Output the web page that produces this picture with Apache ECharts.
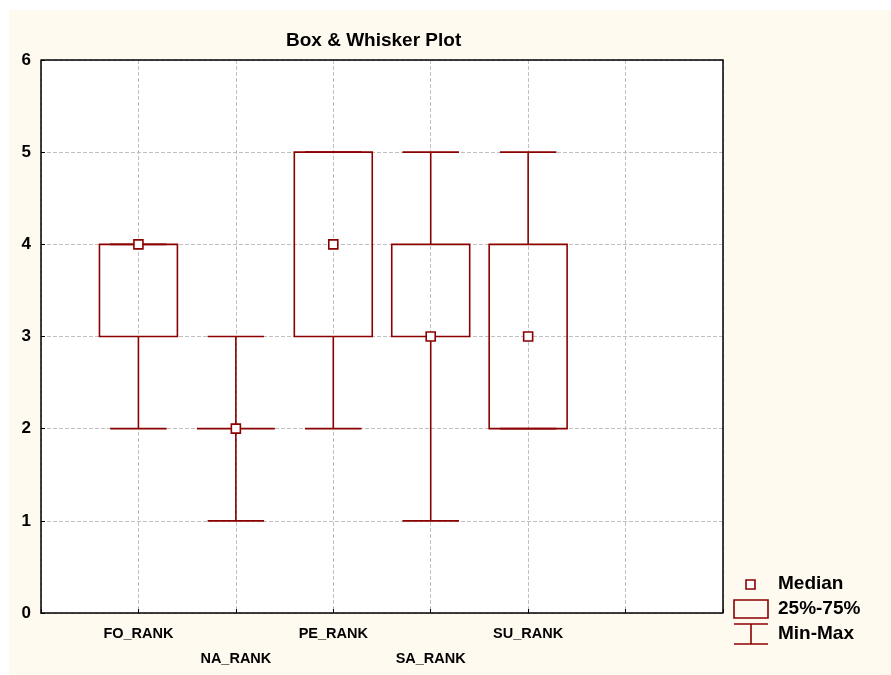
<!DOCTYPE html>
<html>
<head>
<meta charset="utf-8">
<script src="https://cdn.jsdelivr.net/npm/echarts@6/dist/echarts.min.js"></script>
<style>
  html, body { margin: 0; padding: 0; background: #fff; }
  #chart { width: 891px; height: 675px; }
</style>
</head>
<body>
<div id="chart"></div>
<script>
// categories and box statistics
const categories = ['FO_RANK', 'NA_RANK', 'PE_RANK', 'SA_RANK', 'SU_RANK'];
const minValues = [2, 1, 2, 1, 2];
const q1Values = [3, 2, 3, 3, 2];
const medianValues = [4, 2, 4, 3, 3];
const q3Values = [4, 2, 5, 4, 4];
const maxValues = [4, 3, 5, 5, 5];
const yTicks = [0, 1, 2, 3, 4, 5, 6];

const boxColor = '#8b0000';
const font = 'Liberation Sans, Arial, sans-serif';

// x positions 1..5, axis runs 0..7
const seriesData = categories.map((c, i) => [i + 1, minValues[i], q1Values[i], medianValues[i], q3Values[i], maxValues[i]]);

const chart = echarts.init(document.getElementById('chart'));

function renderBox(params, api) {
  const x = api.value(0);
  const pMin = api.coord([x, api.value(1)]);
  const pQ1 = api.coord([x, api.value(2)]);
  const pMed = api.coord([x, api.value(3)]);
  const pQ3 = api.coord([x, api.value(4)]);
  const pMax = api.coord([x, api.value(5)]);
  const boxHalf = api.size([0.4, 0])[0];
  const capHalf = api.size([0.29, 0])[0];
  const cx = pMin[0];
  const lineStyle = { stroke: boxColor, lineWidth: 1.6, fill: null };
  const children = [];
  // whiskers
  children.push({ type: 'line', shape: { x1: cx, y1: pMin[1], x2: cx, y2: pQ1[1] }, style: lineStyle });
  children.push({ type: 'line', shape: { x1: cx, y1: pQ3[1], x2: cx, y2: pMax[1] }, style: lineStyle });
  // caps
  children.push({ type: 'line', shape: { x1: cx - capHalf, y1: pMin[1], x2: cx + capHalf, y2: pMin[1] }, style: lineStyle });
  children.push({ type: 'line', shape: { x1: cx - capHalf, y1: pMax[1], x2: cx + capHalf, y2: pMax[1] }, style: lineStyle });
  // box
  children.push({
    type: 'rect',
    shape: { x: cx - boxHalf, y: pQ3[1], width: boxHalf * 2, height: pQ1[1] - pQ3[1] },
    style: { stroke: boxColor, lineWidth: 1.6, fill: null }
  });
  // median
  children.push({
    type: 'rect',
    shape: { x: cx - 4.5, y: pMed[1] - 4.5, width: 9, height: 9 },
    style: { stroke: boxColor, lineWidth: 1.6, fill: '#fff' }
  });
  return { type: 'group', children };
}

const option = {
  backgroundColor: '#fff',
  animation: false,
  title: {
    text: 'Box & Whisker Plot',
    left: 281,
    top: 26,
    textStyle: { fontFamily: font, fontSize: 19, fontWeight: 'bold', color: '#000' }
  },
  grid: { left: 41, top: 60, right: 168, bottom: 62, show: false },
  xAxis: {
    type: 'value',
    min: 0,
    max: 7,
    interval: 1,
    axisLine: { show: true, onZero: false, lineStyle: { color: '#000', width: 1.5 } },
    axisTick: { show: true, inside: true, length: 4, lineStyle: { color: '#000' } },
    splitLine: { show: true, lineStyle: { color: '#c0c0c0', type: 'dashed', width: 1 } },
    axisLabel: {
      margin: 8,
      fontFamily: font,
      fontSize: 14.5,
      fontWeight: 'bold',
      color: '#000',
      lineHeight: 25,
      formatter: v => {
        const name = categories[v - 1];
        if (!name) return '';
        return (v % 2 === 0) ? '\n' + name : name;
      }
    }
  },
  yAxis: {
    type: 'value',
    min: yTicks[0],
    max: yTicks[yTicks.length - 1],
    interval: 1,
    axisLine: { show: true, lineStyle: { color: '#000', width: 1.5 } },
    axisTick: { show: true, inside: true, length: 4, lineStyle: { color: '#000' } },
    splitLine: { show: true, lineStyle: { color: '#c0c0c0', type: 'dashed', width: 1 } },
    axisLabel: {
      margin: 10,
      fontFamily: font,
      fontSize: 17,
      fontWeight: 'bold',
      color: '#000'
    }
  },
  series: [{
    type: 'custom',
    renderItem: renderBox,
    data: seriesData,
    encode: { x: 0, y: [1, 2, 3, 4, 5] },
    z: 10
  }],
  graphic: [
    // cream page background
    { type: 'rect', left: 9, top: 10, shape: { width: 882, height: 665 }, style: { fill: '#fffaf0' }, z: -100, silent: true },
    // white plot area
    { type: 'rect', left: 41, top: 60, shape: { width: 682, height: 553 }, style: { fill: '#fff' }, z: -90, silent: true },
    // top and right border
    { type: 'polyline', shape: { points: [[41, 60], [723, 60], [723, 613]] }, style: { stroke: '#000', lineWidth: 1.5, fill: null }, z: 5 },
    // legend
    { type: 'rect', shape: { x: 746, y: 580, width: 9, height: 9 }, style: { stroke: boxColor, lineWidth: 1.6, fill: '#fff' } },
    { type: 'rect', shape: { x: 734, y: 600, width: 34, height: 18 }, style: { stroke: boxColor, lineWidth: 1.6, fill: null } },
    { type: 'line', shape: { x1: 734, y1: 624, x2: 768, y2: 624 }, style: { stroke: boxColor, lineWidth: 1.6 } },
    { type: 'line', shape: { x1: 751, y1: 624, x2: 751, y2: 644 }, style: { stroke: boxColor, lineWidth: 1.6 } },
    { type: 'line', shape: { x1: 734, y1: 644, x2: 768, y2: 644 }, style: { stroke: boxColor, lineWidth: 1.6 } },
    { type: 'text', left: 778, top: 574, style: { text: 'Median', font: 'bold 19px ' + font, fill: '#000' } },
    { type: 'text', left: 778, top: 599, style: { text: '25%-75%', font: 'bold 19px ' + font, fill: '#000' } },
    { type: 'text', left: 778, top: 624, style: { text: 'Min-Max', font: 'bold 19px ' + font, fill: '#000' } }
  ]
};

chart.setOption(option);
</script>
</body>
</html>
